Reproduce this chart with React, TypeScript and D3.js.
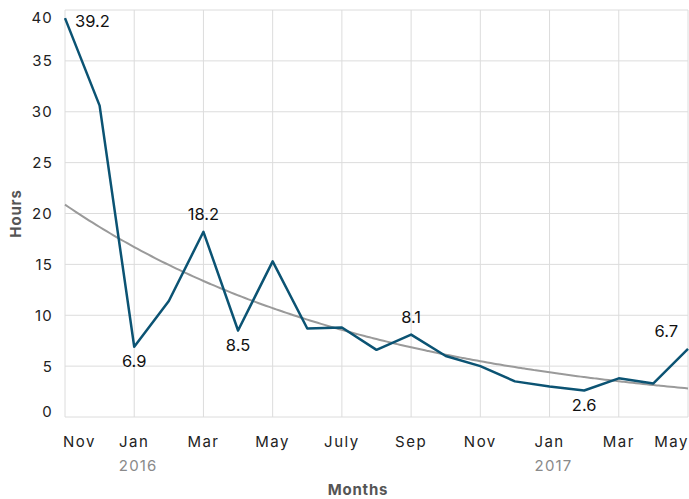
import React from "react";
import * as d3 from "d3";

const monthLabels = ["Nov","Dec","Jan","Feb","Mar","Apr","May","Jun","July","Aug","Sep","Oct","Nov","Dec","Jan","Feb","Mar","Apr","May"];
const hours = [39.2, 30.6, 6.9, 11.4, 18.2, 8.5, 15.3, 8.7, 8.8, 6.6, 8.1, 6.0, 5.0, 3.5, 3.0, 2.6, 3.8, 3.3, 6.7];
const yearLabels: { index: number; year: string }[] = [
  { index: 2, year: "2016" },
  { index: 14, year: "2017" },
];
const yTicks = [0, 5, 10, 15, 20, 25, 30, 35, 40];
// labelled points: index, placement
const labelled: { index: number; pos: "right" | "above" | "below" | "left" }[] = [
  { index: 0, pos: "right" },
  { index: 2, pos: "below" },
  { index: 4, pos: "above" },
  { index: 5, pos: "below" },
  { index: 10, pos: "above" },
  { index: 15, pos: "below" },
  { index: 18, pos: "left" },
];

const W = 689, H = 499;
const M = { left: 65, right: 1, top: 10, bottom: 82 };

export default function App() {
  const x = d3.scaleLinear().domain([0, hours.length - 1]).range([M.left, W - M.right]);
  const y = d3.scaleLinear().domain([0, 40]).range([H - M.bottom, M.top]);

  // exponential trend fit (least squares on log)
  const n = hours.length;
  const ts = hours.map((_, i) => i);
  const ls = hours.map((v) => Math.log(v));
  const tm = d3.mean(ts)!, lm = d3.mean(ls)!;
  const sxy = d3.sum(ts.map((t, i) => (t - tm) * (ls[i] - lm)));
  const sxx = d3.sum(ts.map((t) => (t - tm) * (t - tm)));
  const b = sxy / sxx;
  const a = lm - b * tm;
  const trendPts = d3.range(0, n - 1 + 1e-9, 0.1).map((t) => [t, Math.exp(a + b * t)] as [number, number]);

  const line = d3.line<number>().x((_, i) => x(i)).y((v) => y(v));
  const tline = d3.line<[number, number]>().x((d) => x(d[0])).y((d) => y(d[1])).curve(d3.curveMonotoneX);

  const xTickIdx = d3.range(0, n, 2);
  const font = "Inter, 'Noto Sans', sans-serif";
  const y0 = y(0), yTop = y(40);

  return (
    <svg width={W} height={H} style={{ position: "absolute", left: 0, top: 0, fontFamily: font }}>
      {/* grid */}
      {yTicks.map((t) => (
        <line key={"h" + t} x1={M.left} x2={W - M.right} y1={y(t)} y2={y(t)} stroke="#dcdcdc" strokeWidth={1} />
      ))}
      {xTickIdx.map((i) => (
        <line key={"v" + i} x1={x(i)} x2={x(i)} y1={yTop} y2={y0} stroke="#dcdcdc" strokeWidth={1} />
      ))}
      {/* y tick labels */}
      {yTicks.map((t) => {
        const cy = Math.min(Math.max(y(t), 18), 412);
        return (
          <text key={"yl" + t} x={53} y={cy} dy="0.36em" textAnchor="end" fontSize={15} letterSpacing={1.2} fill="#222">
            {t}
          </text>
        );
      })}
      {/* x tick labels */}
      {xTickIdx.map((i, k) => {
        const anchor = k === 0 ? "start" : i === n - 1 ? "end" : "middle";
        const xx = k === 0 ? x(i) - 2 : i === n - 1 ? x(i) + 1 : x(i);
        return (
          <text key={"xl" + i} x={xx} y={447} textAnchor={anchor} fontSize={15} letterSpacing={1.5} fill="#222">
            {monthLabels[i]}
          </text>
        );
      })}
      {yearLabels.map((d) => (
        <text key={d.year} x={x(d.index) + 4} y={471} textAnchor="middle" fontSize={15} letterSpacing={1.2} fill="#8a8a8a">
          {d.year}
        </text>
      ))}
      {/* axis titles */}
      <text transform={`translate(21,${(y0 + yTop) / 2}) rotate(-90)`} textAnchor="middle" fontSize={15} fontWeight={700} letterSpacing={0.8} fill="#555">
        Hours
      </text>
      <text x={358} y={495} textAnchor="middle" fontSize={15} fontWeight={700} letterSpacing={0.8} fill="#555">
        Months
      </text>
      {/* trend */}
      <path d={tline(trendPts) || ""} fill="none" stroke="#9a9a9a" strokeWidth={2} />
      {/* series */}
      <path d={line(hours) || ""} fill="none" stroke="#0b5373" strokeWidth={2.5} strokeLinejoin="round" />
      {/* data labels */}
      {labelled.map(({ index, pos }) => {
        const px = x(index), py = y(hours[index]);
        let tx = px, ty = py, anchor = "middle";
        if (pos === "right") { tx = px + 10; ty = py + 9; anchor = "start"; }
        if (pos === "above") { ty = py - 12; }
        if (pos === "below") { ty = py + 20; }
        if (pos === "left") { tx = px - 10; ty = py - 12; anchor = "end"; }
        return (
          <text key={"dl" + index} x={tx} y={ty} textAnchor={anchor} fontSize={16.5} fill="#111">
            {hours[index].toFixed(1)}
          </text>
        );
      })}
    </svg>
  );
}
